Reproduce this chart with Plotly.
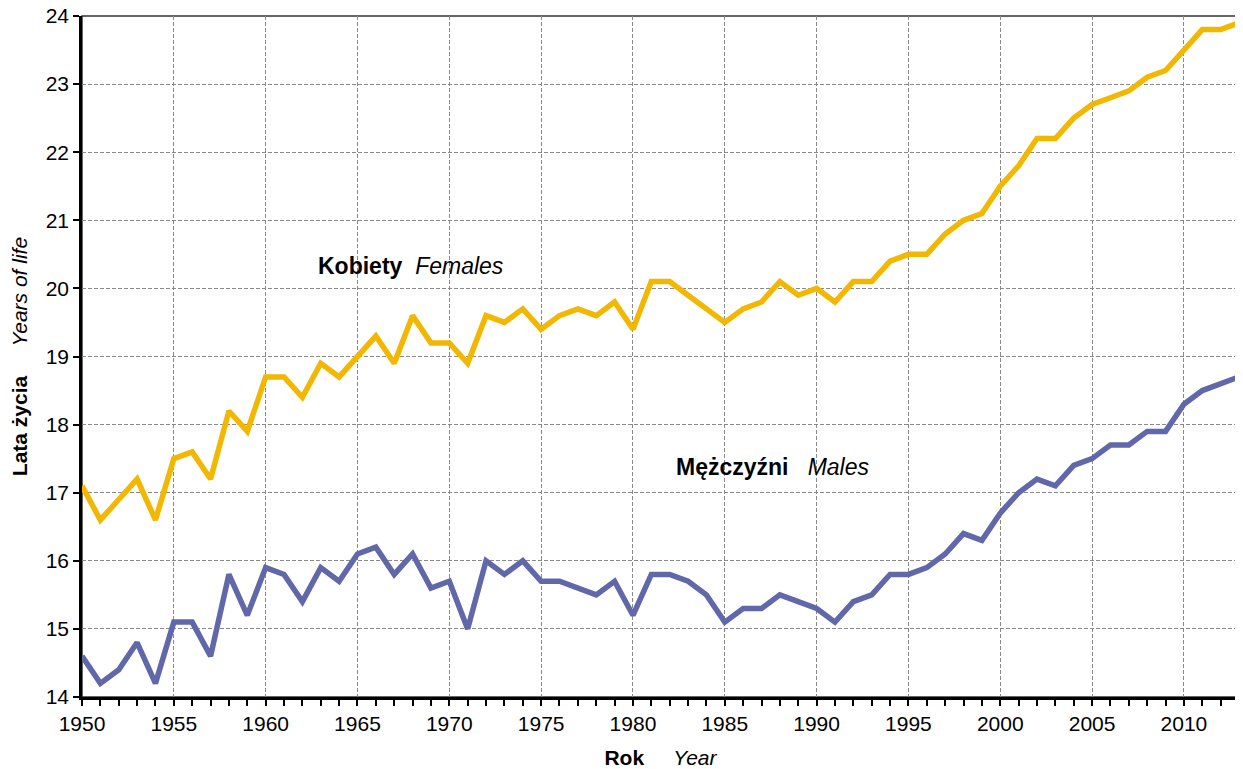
import plotly.graph_objects as go

years = list(range(1950, 2014))
females = [17.1, 16.6, 16.9, 17.2, 16.6, 17.5, 17.6, 17.2, 18.2, 17.9,
           18.7, 18.7, 18.4, 18.9, 18.7, 19.0, 19.3, 18.9, 19.6, 19.2,
           19.2, 18.9, 19.6, 19.5, 19.7, 19.4, 19.6, 19.7, 19.6, 19.8,
           19.4, 20.1, 20.1, 19.9, 19.7, 19.5, 19.7, 19.8, 20.1, 19.9,
           20.0, 19.8, 20.1, 20.1, 20.4, 20.5, 20.5, 20.8, 21.0, 21.1,
           21.5, 21.8, 22.2, 22.2, 22.5, 22.7, 22.8, 22.9, 23.1, 23.2,
           23.5, 23.8, 23.8, 23.9]
males = [14.6, 14.2, 14.4, 14.8, 14.2, 15.1, 15.1, 14.6, 15.8, 15.2,
         15.9, 15.8, 15.4, 15.9, 15.7, 16.1, 16.2, 15.8, 16.1, 15.6,
         15.7, 15.0, 16.0, 15.8, 16.0, 15.7, 15.7, 15.6, 15.5, 15.7,
         15.2, 15.8, 15.8, 15.7, 15.5, 15.1, 15.3, 15.3, 15.5, 15.4,
         15.3, 15.1, 15.4, 15.5, 15.8, 15.8, 15.9, 16.1, 16.4, 16.3,
         16.7, 17.0, 17.2, 17.1, 17.4, 17.5, 17.7, 17.7, 17.9, 17.9,
         18.3, 18.5, 18.6, 18.7]

FONT = "Liberation Sans, Arial, sans-serif"
NB = "\u00a0"

fig = go.Figure()
fig.add_trace(go.Scatter(x=years, y=females, mode="lines", name="Kobiety Females",
                         line=dict(color="#F2B700", width=5.5), cliponaxis=False))
fig.add_trace(go.Scatter(x=years, y=males, mode="lines", name="Mężczyźni Males",
                         line=dict(color="#6068AA", width=5.5), cliponaxis=False))

fig.add_annotation(x=1962.74, y=20.33, xref="x", yref="y", xanchor="left", yanchor="middle",
                   text="<b>Kobiety</b>" + NB * 2 + "<i>Females</i>", showarrow=False,
                   font=dict(family=FONT, size=23, color="black"))
fig.add_annotation(x=1982.23, y=17.38, xref="x", yref="y", xanchor="left", yanchor="middle",
                   text="<b>Mężczyźni</b>" + NB * 3 + "<i>Males</i>", showarrow=False,
                   font=dict(family=FONT, size=23, color="black"))

# top/right frame
fig.add_shape(type="rect", xref="paper", yref="paper", x0=0, y0=0, x1=1, y1=1,
              line=dict(color="#333333", width=1.5), layer="below")

fig.update_layout(
    width=1235, height=761,
    margin=dict(l=74, r=4, t=8, b=72, autoexpand=False),
    paper_bgcolor="white", plot_bgcolor="white",
    showlegend=False,
    font=dict(family=FONT, size=21, color="black"),
    xaxis=dict(
        range=[1950, 2013], tick0=1950, dtick=5,
        showgrid=True, gridcolor="#8a8a8a", griddash="4px,2px", gridwidth=1,
        showline=True, linecolor="black", linewidth=2.5,
        ticks="outside", ticklen=6, tickcolor="black", tickwidth=1.5,
        minor=dict(dtick=1, tick0=1950, ticks="outside", ticklen=6, tickcolor="black",
                   tickwidth=1.5, showgrid=False),
        tickfont=dict(family=FONT, size=21),
        ticklabeloverflow="allow",
        automargin=False,
        zeroline=False,
        title=dict(text="<b>Rok</b>" + NB * 5 + "<i>Year</i>", standoff=18,
                   font=dict(family=FONT, size=21)),
    ),
    yaxis=dict(
        range=[14, 24], dtick=1,
        showgrid=True, gridcolor="#8a8a8a", griddash="4px,2px", gridwidth=1,
        showline=True, linecolor="black", linewidth=2.5,
        ticks="outside", ticklen=6, tickcolor="black", tickwidth=1.5,
        tickfont=dict(family=FONT, size=21),
        ticklabeloverflow="allow",
        automargin=False,
        zeroline=False,
        title=dict(text="<b>Lata życia</b>" + NB * 5 + "<i>Years of life</i>", standoff=15,
                   font=dict(family=FONT, size=21)),
    ),
)

fig.write_html("out.html")
